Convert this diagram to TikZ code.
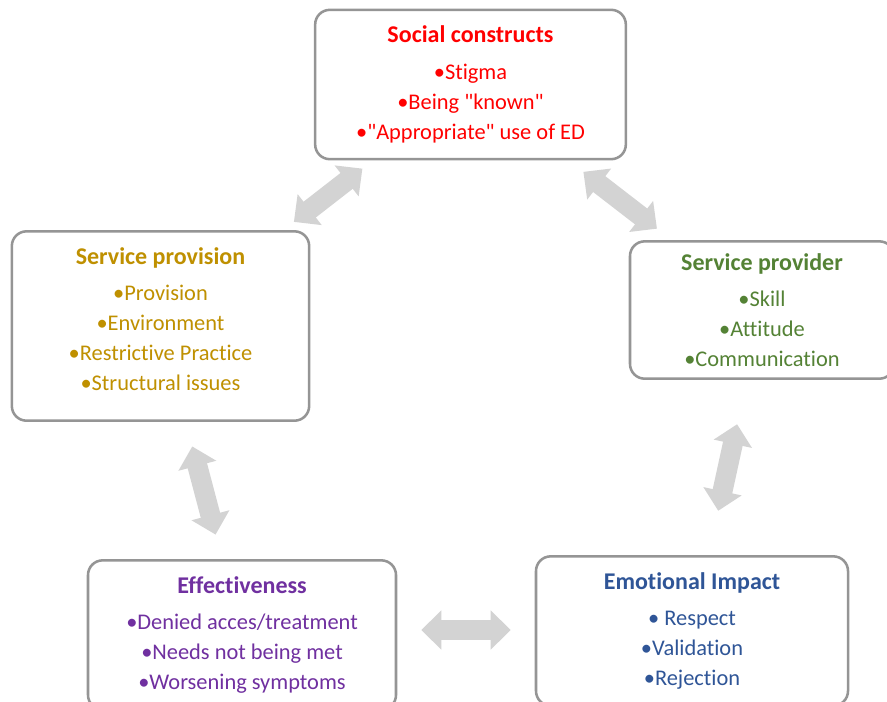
\documentclass[tikz,border=0pt]{standalone}
\usepackage{fontspec}
\setmainfont{Carlito}[Ligatures={TeX,CommonOff}]
\usepackage{tikz}
\usetikzlibrary{arrows.meta,positioning}
\definecolor{socred}{HTML}{FF0000}
\definecolor{provgold}{HTML}{BF9000}
\definecolor{provgreen}{HTML}{548235}
\definecolor{effpurple}{HTML}{7030A0}
\definecolor{emoblue}{HTML}{2F5597}
\definecolor{boxgray}{HTML}{959595}
\definecolor{arrowgray}{HTML}{D3D3D3}
\tikzstyle{box}=[draw=boxgray, line width=1.9pt, rounded corners=11pt, fill=white, align=center,
  font=\fontsize{16.8}{22.5}\selectfont]
\tikzstyle{link}=[draw=arrowgray, line width=15pt,
  {Triangle[width=28.5pt,length=15pt]}-{Triangle[width=28.5pt,length=15pt]}]
\newcommand{\boxtitle}[1]{{\fontsize{18}{22.5}\selectfont\bfseries #1}\\[5pt]}
\newcommand{\qq}{\textquotedbl}

\begin{document}
\begin{tikzpicture}[x=0.75pt,y=-0.75pt]
    \useasboundingbox (0,0) rectangle (887,701);

    \node[box,text=socred,minimum width=233pt,minimum height=112pt] (soc) at (470.5,84.5)
        {\boxtitle{Social constructs}%
         •Stigma\\ •Being \qq known\qq\\ •\qq Appropriate\qq{} use of ED};
    \node[box,text=provgold,minimum width=223pt,minimum height=142pt] (sprov) at (160.5,326)
        {\boxtitle{Service provision}%
         •Provision\\ •Environment\\ •Restrictive Practice\\ •Structural issues\\[-12pt]\mbox{}};
    \node[box,text=provgreen,minimum width=198pt,minimum height=103pt] (sper) at (762,310)
        {\boxtitle{Service provider}%
         •Skill\\ •Attitude\\ •Communication};
    \node[box,text=effpurple,minimum width=231pt,minimum height=112pt] (eff) at (242,635)
        {\boxtitle{Effectiveness}%
         •Denied acces/treatment\\ •Needs not being met\\ •Worsening symptoms};
    \node[box,text=emoblue,minimum width=234pt,minimum height=112pt] (emo) at (692,631)
        {\boxtitle{Emotional Impact}%
         • Respect\\ •Validation\\ •Rejection};

    % two-way links between the boxes
    \draw[link, shorten <=10pt, shorten >=10pt] (soc) -- (sprov);
    \draw[link, shorten <=14pt, shorten >=14pt] (soc) -- (sper);
    \draw[link, shorten <=19pt, shorten >=19pt] (sprov) -- (eff);
    \draw[link, shorten <=34pt, shorten >=34pt] (sper) -- (emo);
    \draw[link, shorten <=18pt, shorten >=18pt] (eff.east |- 0,630) -- (emo.west |- 0,630);

\end{tikzpicture}
\end{document}
